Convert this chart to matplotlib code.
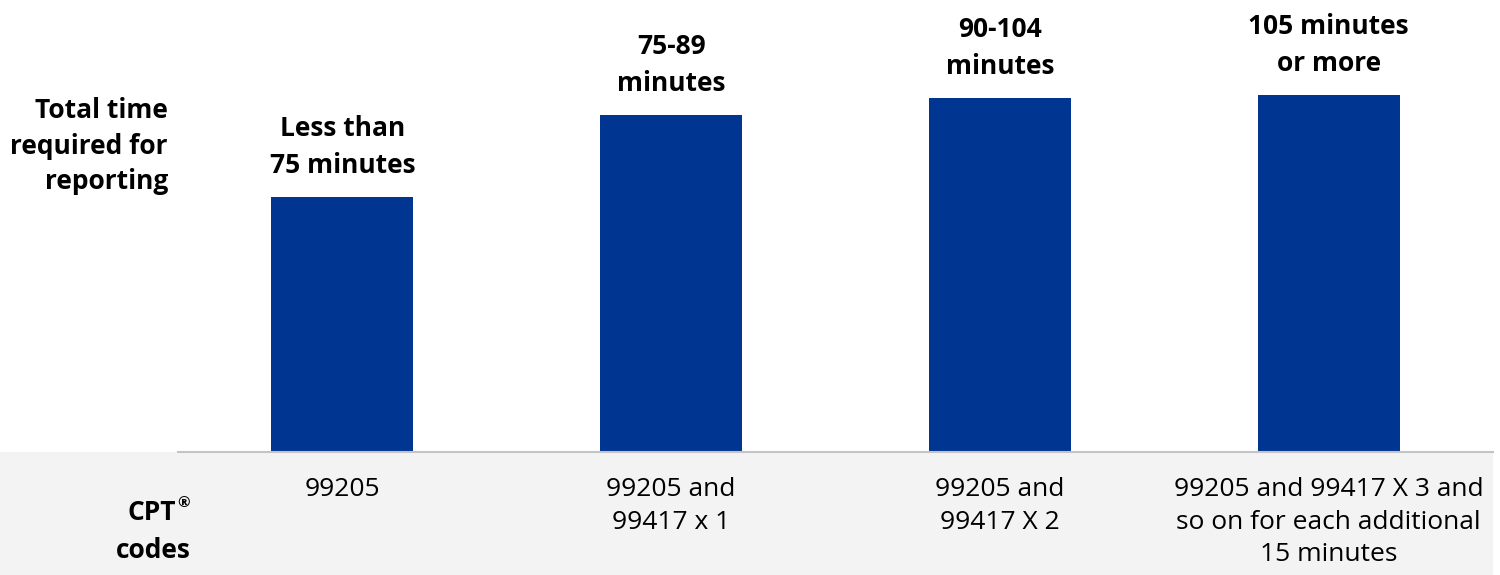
import matplotlib.pyplot as plt
from matplotlib.patches import Rectangle

plt.rcParams['font.family'] = ['Open Sans', 'DejaVu Sans']

# time bands and the billing codes that go with them
bands = ['Less than\n75 minutes', '75-89\nminutes', '90-104\nminutes', '105 minutes\nor more']
heights = [255, 337, 354, 357]
codes = ['99205', '99205 and\n99417 x 1', '99205 and\n99417 X 2',
         '99205 and 99417 X 3 and\nso on for each additional\n15 minutes']

bar_color = '#003591'
band_gray = '#f3f3f3'

fig = plt.figure(figsize=(15, 5.75), dpi=100)

# light gray strip under the baseline holding the code labels
fig.patches.append(Rectangle((0, 0), 0.995, 123 / 575, transform=fig.transFigure,
                             facecolor=band_gray, edgecolor='none', zorder=-1))

ax = fig.add_axes([178 / 1500, 123 / 575, 1315 / 1500, 452 / 575])
ax.patch.set_alpha(0)
x = range(len(bands))
bars = ax.bar(x, heights, width=0.432, color=bar_color)
ax.set_xlim(-0.5, 3.5)
ax.set_ylim(0, 452)

for rect, label in zip(bars, bands):
    ax.annotate(label, (rect.get_x() + rect.get_width() / 2, rect.get_height()),
                xytext=(0, 13), textcoords='offset points', ha='center', va='bottom',
                fontsize=19, fontweight='bold', linespacing=1.45)

for side in ['top', 'right', 'left']:
    ax.spines[side].set_visible(False)
ax.spines['bottom'].set_color('#c4c4c4')
ax.spines['bottom'].set_linewidth(1.5)
ax.set_yticks([])
ax.set_xticks(list(x))
ax.set_xticklabels(codes, fontsize=19, linespacing=1.4, va='top')
ax.tick_params(axis='x', length=0, pad=18)

fig.text(168 / 1500, 1 - 146 / 575, 'Total time\nrequired for\nreporting', ha='right',
         va='center', fontsize=19, fontweight='bold', linespacing=1.42)
fig.text(176 / 1500, 1 - 513 / 575, 'CPT', ha='right', va='center',
         fontsize=19, fontweight='bold')
fig.text(177 / 1500, 1 - 503 / 575, '®', ha='left', va='center',
         fontsize=11, fontweight='bold')
fig.text(191 / 1500, 1 - 550 / 575, 'codes', ha='right', va='center',
         fontsize=19, fontweight='bold')

fig.savefig('out.png', dpi=100)
